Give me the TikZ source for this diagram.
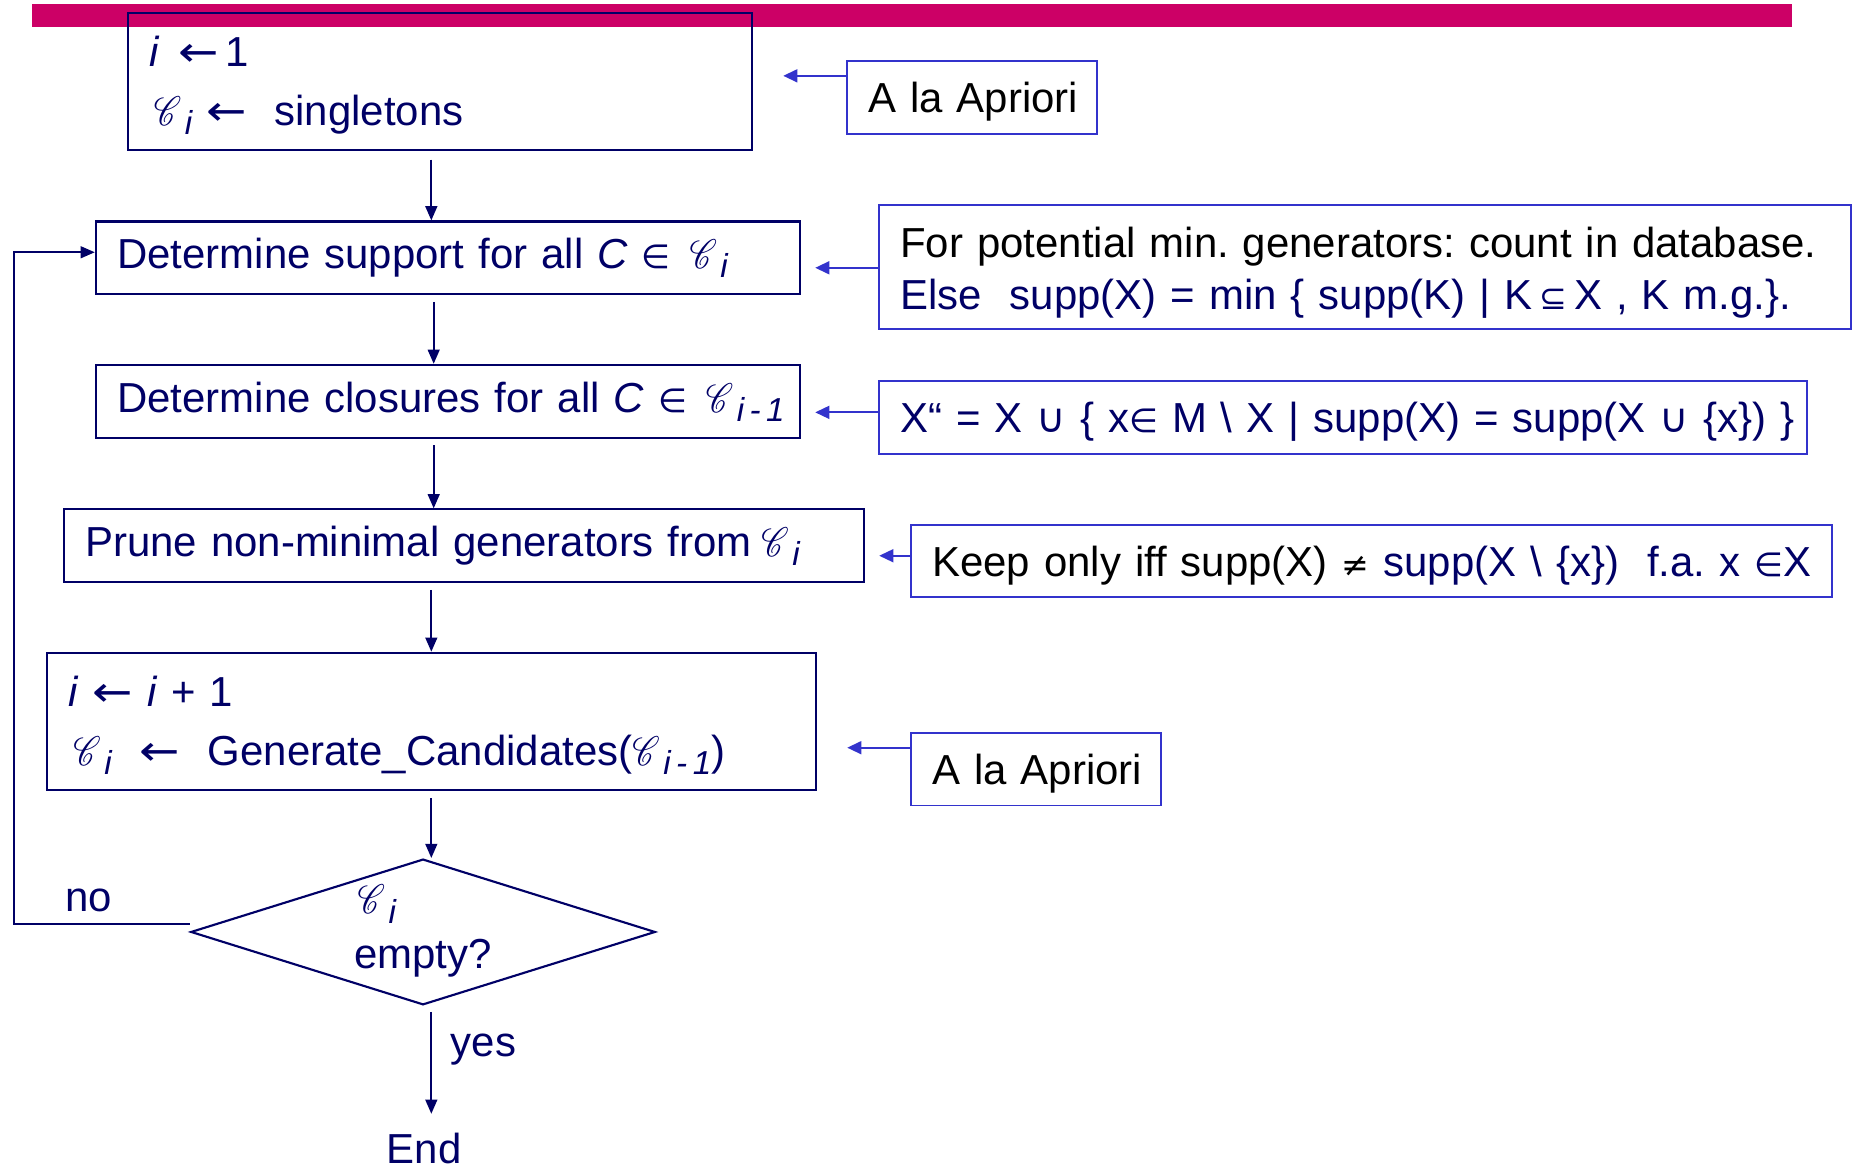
\documentclass[tikz,border=0pt]{standalone}
\usepackage{fontspec}
\setmainfont{Liberation Sans}
\newfontfamily\symf{DejaVu Sans}
\usepackage{mathrsfs}
\usepackage{graphicx}
\usetikzlibrary{arrows.meta,shapes.geometric,calc}

\definecolor{navy}{HTML}{000066}
\definecolor{lineblue}{HTML}{3333CC}
\definecolor{barred}{HTML}{CC0066}

\frenchspacing
\newcommand\bodyfont{\fontsize{17.7}{25}\selectfont}
\newcommand\sym[1]{{\symf\fontsize{14}{14}\selectfont #1}}
\newcommand\bigsym[1]{{\symf\fontsize{17}{17}\selectfont #1}}
\newcommand\larr{\scalebox{1.15}[1]{\symf ←}}
\newcommand\scC{\scalebox{0.8}[1]{$\mathscr{C}$}}
\newcommand\subx[1]{\raisebox{-4pt}{\fontsize{14}{14}\selectfont\itshape #1}}
\newcommand\Cset[1]{\scC\hspace{1.5pt}\subx{#1}}

\tikzset{
  mainbox/.style={draw=navy, line width=0.9pt, text=navy, anchor=north west,
    inner xsep=9pt, inner ysep=0pt, align=left, font=\bodyfont},
  sidebox/.style={draw=lineblue, line width=0.8pt, text=black, anchor=north west,
    inner xsep=9pt, inner ysep=0pt, align=left, font=\bodyfont},
  oneline/.style={text height=13pt, text depth=0pt},
  flow/.style={draw=navy, line width=0.8pt, -{Triangle[length=6pt,width=5pt]}},
  sidearrow/.style={draw=lineblue, line width=0.8pt, -{Triangle[length=6pt,width=5.5pt]}},
  plain/.style={text=navy, font=\bodyfont, inner sep=0pt}
}

\begin{document}
\begin{tikzpicture}[x=0.5pt, y=-0.5pt]
\useasboundingbox (0,0) rectangle (1568,988);

% title bar
\fill[barred] (27,3) rectangle (1512,23);

% main flow
\node[mainbox, minimum width=263.5pt, minimum height=58pt, text width=245.5pt] (b1) at (107,10)
  {\mbox{\rule{0pt}{16pt}\textit{i}\ \hspace{2pt}\larr\hspace{3pt}1}\\\mbox{\hspace{2pt}\Cset{i}\ \larr\ \ singletons}};
\node[mainbox, minimum width=297pt, minimum height=30.5pt, text width=279pt] (b2) at (80,186)
  {\mbox{Determine support for all \textit{C} \sym{∈}\ \hspace{2pt}\Cset{i}}};
\node[mainbox, minimum width=297pt, minimum height=31pt, text width=279pt] (b3) at (80,307)
  {\mbox{Determine closures for all \textit{C} \sym{∈}\ \hspace{2pt}\Cset{i\,-\,1}}};
\node[mainbox, minimum width=337.5pt, minimum height=30.5pt, text width=319.5pt] (b4) at (53,429)
  {\mbox{Prune non-minimal generators from\hspace{4pt}\Cset{i}}};
\node[mainbox, minimum width=324.5pt, minimum height=58pt, text width=306.5pt] (b5) at (39,550)
  {\mbox{\rule{0pt}{16pt}\textit{i} \larr\ \textit{i} + 1}\\\mbox{\hspace{2pt}\Cset{i}\ \ \larr\ \ Generate\_Candidates(\Cset{i\,-\,1})}};
\node[draw=navy, line width=0.9pt, diamond, aspect=3.19, minimum width=196pt,
  minimum height=61.5pt, inner sep=0pt] (dec) at (357,786.5) {};
\node[plain] (dC) at (318,763) {\Cset{i}};
\node[plain, anchor=base] (dq) at (357,817) {empty?};
\node[plain, anchor=base] (endn) at (358,982) {End};
\node[plain, anchor=base] (nolbl) at (75,769) {no};
\node[plain, anchor=base] (yeslbl) at (408,892) {yes};

% side notes
\node[sidebox, oneline, minimum width=105.5pt, minimum height=30.5pt, text width=87.5pt] (s1) at (714,51)
  {\mbox{A la Apriori}};
\node[sidebox, minimum width=410pt, minimum height=52.5pt, text width=392pt,
  font=\fontsize{17.7}{22}\selectfont] (s2) at (741,172)
  {\mbox{\rule{0pt}{18pt}For potential min. generators: count in database.}\\
   \mbox{\color{navy}Else\ \ supp(X) = min \{ supp(K) | K\,\sym{⊆}\,X , K m.g.\}.}};
\node[sidebox, oneline, minimum width=391.5pt, minimum height=30.5pt, text width=373.5pt, text=navy] (s3) at (741,321)
  {\mbox{X“ = X \bigsym{∪} \{ x\sym{∈} M \textbackslash{} X | supp(X) = supp(X \bigsym{∪} \{x\}) \}}};
\node[sidebox, oneline, minimum width=388.5pt, minimum height=30.5pt, text width=370.5pt] (s4) at (768,442)
  {\mbox{Keep only iff supp(X) \sym{≠} {\color{navy}supp(X \textbackslash{} \{x\})\ \ f.a. x \sym{∈}X}}};
\node[sidebox, oneline, minimum width=105.5pt, minimum height=30.5pt, text width=87.5pt] (s5) at (768,618)
  {\mbox{A la Apriori}};

% connector helpers
\coordinate (col) at (364,0);
\coordinate (col2) at (366,0);
\coordinate (loopx) at (12,0);
\coordinate (noStart) at ($(dec.west)+(0,-7)$);
\coordinate (t1) at (661,64);
\coordinate (t2) at (688,226);
\coordinate (t3) at (688,348);
\coordinate (t4) at (742,469);
\coordinate (t5) at (715,631);

% flow connectors
\draw[flow, shorten <=3.5pt] (b1.south -| col) -- (b2.north -| col);
\draw[flow, shorten <=3pt] (b2.south -| col2) -- (b3.north -| col2);
\draw[flow, shorten <=2.5pt] (b3.south -| col2) -- (b4.north -| col2);
\draw[flow, shorten <=3pt] (b4.south -| col) -- (b5.north -| col);
\draw[flow, shorten <=3pt] (b5.south -| col) -- (dec.north -| col);
\draw[flow, shorten <=2.5pt, shorten >=8pt] (dec.south -| col) -- (endn.north -| col);
\draw[flow] (noStart) -- (noStart -| loopx) |- ([yshift=2.25pt]b2.west);

% side arrows
\draw[sidearrow] (s1.west |- t1) -- (t1);
\draw[sidearrow] (s2.west |- t2) -- (t2);
\draw[sidearrow] (s3.west |- t3) -- (t3);
\draw[sidearrow] (s4.west |- t4) -- (t4);
\draw[sidearrow] (s5.west |- t5) -- (t5);
\end{tikzpicture}
\end{document}
